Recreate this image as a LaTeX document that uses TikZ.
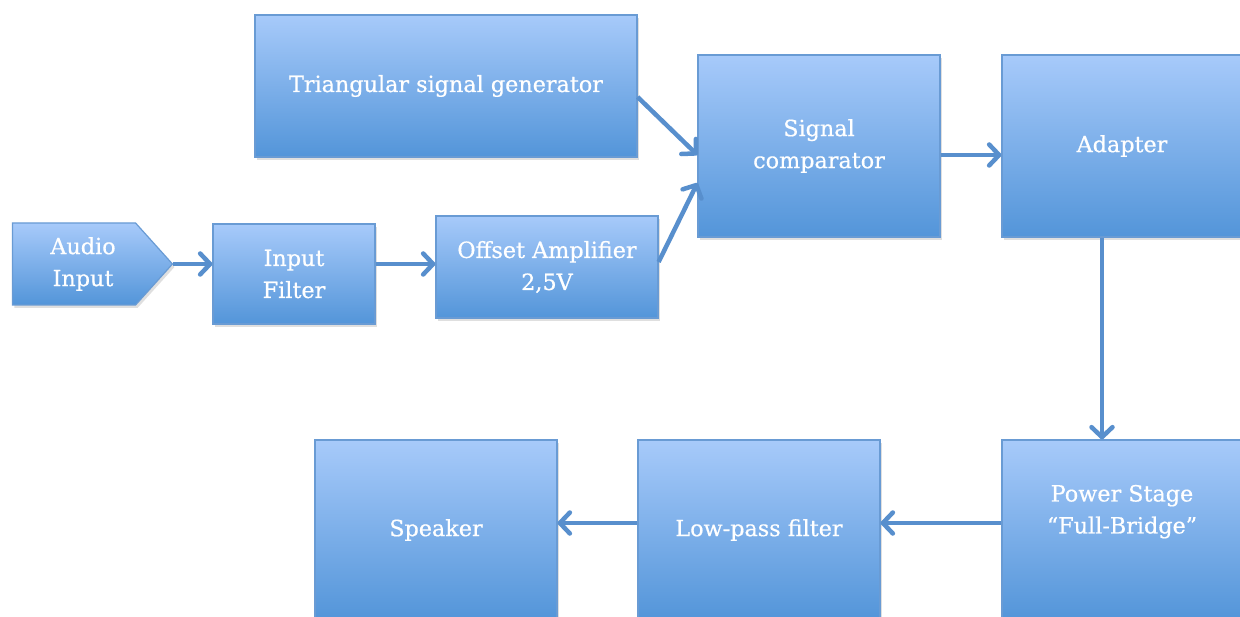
\documentclass[tikz,border=0pt]{standalone}
\usepackage{fontspec}
\setmainfont{DejaVu Serif}[FakeBold=0.6]
\usepackage{tikz}
\usetikzlibrary{arrows.meta, calc, shadows, shapes.symbols}
\definecolor{boxtop}{RGB}{167, 202, 250}
\definecolor{boxbottom}{RGB}{83, 149, 217}
\definecolor{boxline}{RGB}{105, 155, 212}
\definecolor{flowline}{RGB}{88, 143, 205}

\begin{document}
\begin{tikzpicture}[x=1pt, y=-1pt,
        font=\fontsize{22.3}{32}\selectfont,
        box/.style={rectangle, draw=boxline, line width=1.2pt, top color=boxtop, bottom color=boxbottom,
                    drop shadow={opacity=0.25, shadow xshift=2pt, shadow yshift=-3pt},
                    text=white, align=center, inner sep=4pt},
        sig/.style={box, shape=signal, signal to=east, signal pointer angle=96},
        flow/.style={draw=flowline, line width=4.5pt, -{Straight Barb[length=10pt, width=21pt, round]}}
    ]
        \clip (0,0) rectangle (1240,617);
        \fill[white] (0,0) rectangle (1240,617);
        % top row
        \node[box, minimum width=382pt, minimum height=142pt] (tri) at (446,86) {Triangular signal generator};
        \node[box, minimum width=242pt, minimum height=182pt] (comp) at (819,146) {Signal\\comparator};
        \node[box, minimum width=240pt, minimum height=182pt] (adapt) at (1122,146) {Adapter};
        % input chain
        \node[sig, minimum width=160pt, minimum height=82pt] (audio) at (74,264) {\hspace*{18pt}Audio\\\hspace*{18pt}Input};
        \node[box, minimum width=162pt, minimum height=100pt] (infilt) at (294,274) {Input\\Filter};
        \node[box, minimum width=222pt, minimum height=102pt] (offset) at (547,267) {Offset Amplifier\\2,5V};
        % output chain
        \node[box, minimum width=240pt, minimum height=180pt] (power) at (1122,530) {Power Stage\\“Full-Bridge”\\[0pt]\strut};
        \node[box, minimum width=242pt, minimum height=180pt] (lowpass) at (759,530) {Low-pass filter};
        \node[box, minimum width=242pt, minimum height=180pt] (speaker) at (436,530) {Speaker};

        \draw[flow] (audio.east) -- (audio.east -| infilt.west);
        \draw[flow] (infilt.east |- audio.east) -- (offset.west |- audio.east);
        \draw[flow] ([yshift=5pt]offset.east) -- ($(comp.west)+(0,37)$);
        \draw[flow] ([yshift=-11pt]tri.east) -- ([yshift=-9pt]comp.west);
        \draw[flow] ([yshift=-9pt]comp.east) -- ([yshift=-9pt]adapt.west);
        \draw[flow] ([xshift=-20pt]adapt.south) -- ([xshift=-20pt]power.north);
        \draw[flow] ([yshift=7pt]power.west) -- ([yshift=7pt]lowpass.east);
        \draw[flow] ([yshift=7pt]lowpass.west) -- ([yshift=7pt]speaker.east);
    \end{tikzpicture}
\end{document}
